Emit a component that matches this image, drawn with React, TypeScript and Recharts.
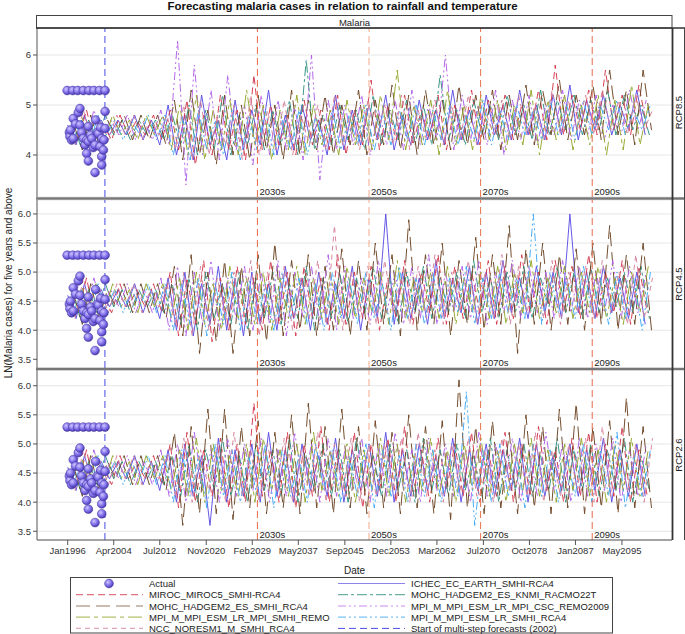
import React from 'react';
import {
  ComposedChart,
  Line,
  Scatter,
  XAxis,
  YAxis,
  CartesianGrid,
  ReferenceLine,
} from 'recharts';

const FONT = '"Liberation Sans", Arial, sans-serif';

// x axis ticks (decimal years) and their labels
const tickYears = [1996, 2004.25, 2012.5, 2020.83, 2029.08, 2037.33, 2045.67, 2053.92, 2062.17, 2070.5, 2078.75, 2087, 2095.33];
const tickLabels = ['Jan1996', 'Apr2004', 'Jul2012', 'Nov2020', 'Feb2029', 'May2037', 'Sep2045', 'Dec2053', 'Mar2062', 'Jul2070', 'Oct2078', 'Jan2087', 'May2095'];

const decades = [2030, 2050, 2070, 2090];
const decadeLabels = ['2030s', '2050s', '2070s', '2090s'];
const forecastStart = 2002.67;

// observed series
const actualYears = [
  1995.9, 1996.9, 1997.8, 1998.8, 1999.8, 2000.7, 2001.7, 2002.7,
  1996.3, 1996.4, 1996.5, 1996.7, 1997.0, 1997.0, 1997.4, 1997.9, 1998.2, 1998.2,
  1998.5, 1998.8, 1999.1, 1999.4, 1999.4, 1999.7, 1999.7, 1999.7, 2000.1, 2000.3,
  2000.6, 2000.9, 2000.9, 2001.0, 2001.3, 2001.5, 2001.8, 2001.9, 2002.1, 2002.1,
  2002.1, 2002.4, 2002.7, 2002.7, 2002.5,
];
const actualValues = [
  5.29, 5.29, 5.29, 5.29, 5.29, 5.29, 5.29, 5.29,
  4.45, 4.37, 4.5, 4.3, 4.33, 4.73, 4.62, 4.85, 4.93, 4.6,
  4.45, 4.33, 4.2, 4.03, 4.3, 3.88, 4.27, 4.57, 4.4, 4.33,
  4.15, 3.65, 4.2, 4.7, 4.45, 4.43, 4.17, 4.55, 4.33, 3.97,
  3.8, 4.1, 4.53, 4.87, 4.3,
];

// model series, in legend order
const modelNames = [
  'ICHEC_EC_EARTH_SMHI-RCA4',
  'MIROC_MIROC5_SMHI-RCA4',
  'MOHC_HADGEM2_ES_KNMI_RACMO22T',
  'MOHC_HADGEM2_ES_SMHI_RCA4',
  'MPI_M_MPI_ESM_LR_MPI_CSC_REMO2009',
  'MPI_M_MPI_ESM_LR_MPI_SMHI_REMO',
  'MPI_M_MPI_ESM_LR_SMHI_RCA4',
  'NCC_NORESM1_M_SMHI_RCA4',
];
const modelColors = ['#5d4fe4', '#d2384c', '#2f9080', '#6d4524', '#b060e8', '#94a72c', '#3fa9f5', '#d4829a'];
const modelDash = [undefined, '7 4', '10 3 3 3', '14 6', '8 3 2 3 2 3', '14 4 4 4', '8 3 2 3 2 3', '5 4'];
const modelPhase = [0, 0.375, 0.75, 1.125, 0.19, 0.56, 0.94, 1.31];
const sampleStart = 1996;
const sampleStep = 1.5;

// 1996 - 2012.5, same in all scenarios
const earlyValues = [
  [4.6, 4.2, 4.8, 4.3, 4.7, 4.4, 4.7, 4.4, 4.8, 4.3, 4.7, 4.2],
  [4.5, 4.3, 4.9, 4.2, 4.6, 4.3, 4.8, 4.4, 4.7, 4.4, 4.8, 4.3],
  [4.7, 4.2, 4.7, 4.3, 4.8, 4.4, 4.7, 4.3, 4.7, 4.4, 4.7, 4.3],
  [4.6, 4.1, 4.8, 4.2, 4.7, 4.4, 4.8, 4.3, 4.8, 4.3, 4.8, 4.2],
  [4.3, 4.8, 4.2, 4.9, 4.4, 4.7, 4.4, 4.8, 4.3, 4.7, 4.3, 4.9],
  [4.4, 5.0, 4.3, 4.8, 4.3, 4.8, 4.4, 4.7, 4.3, 4.8, 4.4, 4.8],
  [4.3, 4.7, 4.2, 4.8, 4.4, 4.7, 4.3, 4.7, 4.4, 4.8, 4.3, 4.8],
  [4.2, 4.9, 4.3, 4.7, 4.3, 4.8, 4.4, 4.8, 4.3, 4.7, 4.4, 4.8],
];

// 2014 - 2099.5
const rcp85Values = [
  [5.0, 4.0, 4.8, 3.9, 5.2, 4.2, 4.7, 3.9, 5.1, 4.1, 4.9, 4.2, 5.3, 4.0, 4.8, 4.1, 5.0, 4.3, 4.7, 4.0,
   5.2, 4.1, 4.9, 4.2, 5.0, 4.3, 5.2, 4.1, 4.8, 4.2, 5.1, 4.3, 4.9, 4.2, 5.3, 4.3, 4.9, 4.2, 5.2, 4.4,
   5.0, 4.3, 5.3, 4.4, 5.0, 4.3, 5.2, 4.4, 5.4, 4.3, 5.1, 4.5, 5.2, 4.4, 5.0, 4.5, 5.3, 4.4],
  [4.9, 4.1, 5.1, 3.8, 4.8, 4.0, 5.2, 4.1, 4.9, 3.9, 5.6, 4.1, 5.0, 4.2, 4.8, 4.0, 5.1, 4.2, 4.9, 4.1,
   5.2, 4.0, 4.9, 4.2, 5.5, 4.1, 5.0, 4.3, 5.2, 4.2, 4.9, 4.3, 5.2, 4.1, 5.0, 4.3, 5.3, 4.2, 5.1, 4.4,
   5.2, 4.3, 5.0, 4.4, 5.3, 4.3, 5.8, 4.4, 5.2, 4.5, 5.3, 4.4, 5.7, 4.5, 5.2, 4.4, 5.4, 4.5],
  [4.8, 4.2, 5.0, 4.0, 4.9, 4.1, 5.2, 4.0, 4.8, 4.2, 5.0, 4.1, 4.9, 4.2, 5.1, 4.0, 5.9, 4.1, 4.8, 4.2,
   5.0, 4.3, 4.9, 4.1, 5.2, 4.2, 4.9, 4.3, 5.1, 4.2, 5.0, 4.2, 5.6, 4.3, 4.9, 4.2, 5.1, 4.4, 5.0, 4.3,
   5.2, 4.4, 5.0, 4.3, 5.3, 4.4, 5.1, 4.5, 5.2, 4.4, 5.1, 4.5, 5.3, 4.4, 5.2, 4.5, 5.0, 4.4],
  [5.1, 3.9, 5.3, 4.0, 4.9, 3.8, 5.2, 4.0, 5.0, 3.9, 5.2, 4.1, 5.0, 3.9, 5.3, 4.0, 5.1, 4.1, 5.2, 4.0,
   5.0, 4.2, 5.3, 4.0, 5.1, 4.2, 5.4, 4.1, 5.2, 4.0, 5.3, 4.2, 5.1, 4.1, 5.4, 4.2, 5.2, 4.3, 5.3, 4.1,
   5.2, 4.3, 5.4, 4.2, 5.3, 4.4, 5.5, 4.3, 5.2, 4.4, 5.4, 4.3, 5.7, 4.4, 5.3, 4.2, 5.7, 4.5],
  [4.2, 6.3, 3.4, 5.8, 4.0, 5.3, 3.9, 5.6, 4.1, 5.0, 3.8, 5.2, 4.0, 5.1, 4.1, 5.0, 3.9, 6.0, 3.5, 5.1,
   4.1, 5.0, 4.2, 5.2, 4.0, 4.9, 4.2, 5.1, 4.1, 5.3, 4.2, 5.0, 4.3, 6.0, 4.1, 5.2, 4.3, 5.0, 4.2, 5.3,
   4.0, 5.1, 4.3, 5.2, 4.2, 5.0, 4.4, 5.3, 4.3, 5.1, 4.4, 5.2, 4.3, 5.0, 4.4, 5.3, 4.5, 5.1],
  [4.1, 5.0, 4.0, 5.2, 3.9, 4.9, 4.1, 5.1, 4.0, 5.3, 4.2, 5.0, 3.9, 4.9, 4.1, 5.2, 4.0, 5.0, 4.2, 4.9,
   4.0, 5.1, 4.2, 5.0, 4.1, 5.2, 4.3, 5.7, 4.1, 5.0, 4.2, 5.1, 4.0, 5.3, 4.2, 5.0, 4.1, 5.2, 4.3, 5.1,
   4.1, 5.0, 4.2, 5.3, 4.0, 5.1, 4.3, 5.2, 4.1, 5.0, 4.2, 5.2, 4.0, 5.1, 4.1, 5.4, 4.2, 5.0],
  [4.0, 4.8, 3.9, 4.9, 4.1, 4.7, 4.0, 4.9, 3.9, 4.8, 4.1, 4.9, 4.0, 4.7, 4.1, 4.9, 4.0, 4.8, 4.2, 4.9,
   4.1, 4.8, 4.2, 5.0, 4.1, 4.8, 4.2, 4.9, 4.3, 5.0, 4.2, 4.9, 4.3, 5.0, 4.2, 4.8, 4.3, 5.1, 4.2, 4.9,
   4.3, 5.0, 4.4, 4.9, 4.3, 5.1, 4.4, 5.0, 4.3, 5.1, 4.4, 5.0, 4.5, 5.1, 4.4, 4.9, 4.5, 5.0],
  [4.1, 5.0, 3.9, 5.1, 4.0, 4.8, 4.2, 5.0, 3.9, 5.2, 4.0, 4.9, 4.1, 5.1, 4.0, 4.8, 4.2, 5.0, 4.1, 5.2,
   4.2, 4.9, 4.1, 5.1, 4.3, 5.0, 4.2, 5.2, 4.1, 4.9, 4.3, 5.1, 4.2, 5.0, 4.3, 5.2, 4.2, 4.9, 4.4, 5.1,
   4.3, 5.2, 4.4, 5.0, 4.3, 5.3, 4.4, 5.1, 4.5, 5.2, 4.4, 5.3, 4.5, 5.1, 4.4, 5.2, 4.5, 4.9],
];

const rcp45Values = [
  [4.9, 4.0, 5.0, 3.9, 4.8, 4.1, 5.1, 4.0, 4.9, 3.9, 5.0, 4.1, 4.8, 4.0, 5.1, 4.2, 4.9, 4.0, 5.0, 4.1,
   4.8, 4.2, 5.1, 4.0, 4.9, 4.2, 6.0, 4.1, 5.0, 4.2, 4.9, 4.1, 5.2, 4.2, 4.9, 4.3, 5.1, 4.1, 5.0, 4.2,
   5.2, 4.3, 4.9, 4.2, 5.1, 4.3, 5.0, 4.2, 6.0, 4.3, 5.0, 4.2, 5.1, 4.3, 4.9, 4.2, 5.0, 4.1],
  [5.0, 3.9, 4.9, 4.1, 5.2, 3.8, 4.9, 4.0, 5.1, 4.1, 4.9, 4.0, 5.2, 4.1, 5.0, 3.9, 5.1, 4.2, 4.9, 4.0,
   5.3, 4.1, 5.0, 4.2, 5.1, 4.0, 4.9, 4.2, 5.2, 4.1, 5.0, 4.3, 5.3, 4.1, 5.1, 4.2, 5.0, 4.3, 5.2, 4.1,
   5.1, 4.2, 5.3, 4.3, 5.0, 4.1, 5.2, 4.3, 5.1, 4.2, 5.3, 4.2, 5.0, 4.3, 5.2, 4.1, 5.1, 4.3],
  [4.8, 4.1, 4.9, 4.0, 5.0, 4.2, 4.8, 4.1, 5.0, 4.0, 4.9, 4.2, 5.0, 4.1, 4.8, 4.2, 5.1, 4.0, 4.9, 4.2,
   5.0, 4.1, 4.9, 4.3, 5.1, 4.2, 4.9, 4.1, 5.0, 4.3, 5.1, 4.2, 4.9, 4.3, 5.0, 4.2, 5.2, 4.3, 4.9, 4.2,
   5.0, 4.3, 5.1, 4.2, 4.9, 4.4, 5.1, 4.3, 5.0, 4.2, 5.1, 4.3, 4.9, 4.4, 5.0, 4.3, 5.1, 4.2],
  [5.1, 3.9, 5.3, 3.6, 5.0, 3.8, 5.2, 3.6, 5.1, 3.9, 5.3, 3.8, 5.5, 3.9, 5.2, 4.0, 5.3, 3.9, 5.1, 4.0,
   5.4, 3.9, 5.2, 4.0, 5.5, 4.1, 5.3, 3.9, 5.9, 4.0, 5.3, 4.1, 5.5, 3.9, 5.2, 4.1, 5.6, 4.0, 5.3, 4.1,
   5.8, 3.6, 5.4, 4.1, 5.5, 4.0, 5.3, 4.1, 5.4, 4.0, 5.5, 4.1, 5.8, 4.0, 5.3, 4.1, 5.5, 4.0],
  [4.0, 5.1, 3.9, 5.0, 4.1, 5.2, 4.0, 4.9, 4.2, 5.1, 4.0, 5.0, 4.1, 5.2, 3.9, 5.0, 4.2, 5.1, 4.1, 5.3,
   4.0, 5.1, 4.2, 4.9, 4.1, 5.2, 4.3, 5.0, 4.1, 5.1, 4.2, 5.3, 4.1, 5.0, 4.3, 5.1, 4.2, 5.2, 4.1, 5.0,
   4.3, 5.2, 4.2, 5.1, 4.3, 5.0, 4.2, 5.2, 4.3, 5.1, 4.2, 5.0, 4.3, 5.2, 4.2, 5.1, 4.3, 5.0],
  [4.2, 4.9, 4.0, 5.0, 4.1, 4.8, 4.0, 5.1, 4.2, 4.9, 4.1, 5.0, 4.0, 4.9, 4.2, 5.1, 4.1, 4.9, 4.2, 5.0,
   4.1, 5.1, 4.2, 4.9, 4.3, 5.0, 4.1, 5.2, 4.2, 4.9, 4.3, 5.0, 4.2, 5.1, 4.1, 4.9, 4.3, 5.0, 4.2, 5.1,
   4.1, 5.0, 4.3, 5.2, 4.2, 4.9, 4.3, 5.1, 4.2, 5.0, 4.3, 5.1, 4.2, 4.9, 4.1, 5.0, 4.3, 5.1],
  [4.0, 4.8, 4.1, 4.9, 3.9, 4.8, 4.1, 5.0, 4.0, 4.9, 4.1, 4.8, 4.0, 5.0, 4.2, 4.9, 4.1, 4.8, 4.0, 5.0,
   4.2, 4.9, 4.1, 5.0, 4.2, 4.8, 4.0, 5.1, 4.2, 4.9, 4.1, 5.0, 4.2, 4.9, 4.3, 5.1, 4.1, 4.9, 4.2, 5.0,
   4.3, 4.9, 4.2, 6.0, 4.1, 5.0, 4.3, 4.9, 4.2, 5.1, 4.3, 4.9, 4.1, 5.0, 4.2, 4.9, 4.0, 5.0],
  [4.1, 5.0, 3.9, 5.1, 4.0, 4.9, 4.2, 5.0, 4.1, 5.2, 3.9, 5.0, 4.1, 5.1, 4.0, 4.9, 4.2, 5.2, 4.1, 5.8,
   4.0, 5.0, 4.2, 5.1, 4.1, 5.2, 4.3, 4.9, 4.1, 5.1, 4.2, 5.3, 4.1, 5.0, 4.3, 5.2, 4.1, 5.0, 4.2, 5.3,
   4.1, 5.1, 4.3, 5.0, 4.2, 5.2, 4.1, 5.0, 4.3, 5.1, 4.2, 5.2, 4.3, 5.0, 4.1, 5.3, 4.2, 4.9],
];

const rcp26Values = [
  [4.9, 4.0, 5.0, 4.1, 4.8, 3.6, 5.1, 4.0, 4.9, 4.1, 5.0, 4.0, 5.2, 4.1, 4.9, 4.0, 5.0, 4.2, 4.8, 4.1,
   5.1, 4.0, 4.9, 4.2, 5.0, 4.1, 5.2, 4.0, 4.9, 4.1, 5.0, 4.2, 4.8, 4.1, 5.1, 4.0, 4.9, 4.2, 5.0, 4.1,
   4.9, 4.2, 5.1, 4.0, 5.0, 4.1, 4.8, 4.2, 5.0, 4.1, 4.9, 4.2, 5.1, 4.0, 4.9, 4.1, 5.0, 4.1],
  [5.0, 3.9, 5.2, 4.0, 4.9, 4.1, 5.1, 3.9, 5.0, 4.0, 5.7, 4.1, 4.9, 4.0, 5.2, 3.9, 5.0, 4.1, 5.3, 4.0,
   4.9, 4.1, 5.2, 3.9, 5.0, 4.2, 5.1, 4.0, 5.3, 4.1, 4.9, 4.0, 5.1, 4.2, 5.0, 4.1, 5.2, 4.0, 4.9, 4.1,
   5.2, 4.0, 5.0, 4.1, 5.3, 4.2, 4.9, 4.0, 5.1, 4.1, 5.2, 4.0, 5.0, 4.1, 5.3, 4.0, 4.9, 4.1],
  [4.8, 4.1, 5.0, 4.0, 4.9, 4.2, 5.1, 4.1, 4.8, 4.0, 5.0, 4.2, 4.9, 4.1, 5.1, 4.0, 4.8, 4.2, 5.0, 4.1,
   4.9, 4.0, 5.1, 4.2, 4.8, 4.1, 5.0, 4.2, 4.9, 4.0, 5.1, 4.2, 4.9, 4.1, 5.0, 4.2, 4.8, 4.1, 5.1, 4.0,
   4.9, 4.2, 5.0, 4.1, 4.8, 4.2, 5.1, 4.0, 4.9, 4.2, 5.0, 4.1, 4.9, 4.2, 5.1, 4.0, 4.8, 4.2],
  [5.2, 3.6, 5.3, 3.8, 5.6, 3.8, 5.6, 3.7, 5.3, 3.9, 5.4, 3.8, 5.2, 3.9, 5.5, 3.8, 5.7, 3.9, 5.3, 3.8,
   5.6, 3.9, 5.3, 3.8, 5.4, 3.9, 5.2, 3.8, 5.5, 3.9, 5.3, 3.8, 5.4, 3.7, 6.1, 3.9, 5.3, 3.8, 5.4, 3.9,
   5.2, 3.8, 5.5, 3.9, 5.3, 3.8, 5.6, 3.9, 5.7, 3.8, 5.3, 3.9, 5.4, 3.8, 5.8, 3.9, 5.3, 3.9],
  [4.1, 5.0, 4.0, 5.2, 4.2, 4.9, 4.0, 5.1, 4.1, 5.0, 4.2, 5.1, 4.0, 4.9, 4.1, 5.2, 4.2, 5.0, 4.0, 5.1,
   4.1, 4.9, 4.2, 5.1, 4.0, 5.0, 4.1, 5.2, 4.2, 4.9, 4.0, 5.1, 4.2, 5.0, 4.1, 4.9, 4.0, 5.2, 4.1, 5.0,
   4.2, 5.1, 4.0, 4.9, 4.1, 5.2, 4.2, 5.0, 4.0, 5.1, 4.1, 5.0, 4.2, 5.1, 4.0, 4.9, 4.1, 5.0],
  [4.2, 4.9, 4.1, 5.1, 4.0, 5.0, 4.2, 4.8, 4.1, 5.0, 4.0, 5.1, 4.2, 4.9, 4.1, 5.0, 4.0, 5.2, 4.2, 4.9,
   4.1, 5.0, 4.0, 4.9, 4.2, 5.1, 4.1, 5.0, 4.0, 4.8, 4.2, 5.1, 4.1, 4.9, 4.0, 5.0, 4.2, 5.1, 4.1, 4.9,
   4.0, 5.0, 4.2, 5.1, 4.1, 4.9, 4.0, 5.0, 4.2, 5.1, 4.1, 4.9, 4.0, 5.0, 4.2, 5.1, 4.1, 4.9],
  [4.0, 4.9, 4.1, 4.8, 3.9, 5.0, 4.1, 4.9, 4.0, 4.8, 4.1, 5.0, 3.9, 4.9, 4.1, 4.8, 4.0, 5.0, 4.2, 4.9,
   4.0, 4.8, 4.1, 5.0, 3.9, 4.9, 4.1, 4.8, 4.0, 5.0, 4.1, 4.9, 4.0, 4.8, 4.1, 5.9, 3.6, 4.9, 4.0, 5.0,
   4.1, 4.8, 3.9, 5.0, 4.1, 4.9, 4.0, 4.8, 4.1, 5.0, 4.0, 4.9, 4.1, 5.2, 3.9, 4.8, 4.1, 4.9],
  [4.1, 5.1, 4.0, 4.9, 4.2, 5.0, 4.0, 5.2, 4.1, 4.9, 4.0, 5.0, 4.2, 5.1, 4.0, 4.9, 4.1, 5.2, 4.0, 5.0,
   4.2, 5.1, 4.0, 4.9, 4.1, 5.0, 4.2, 5.1, 4.0, 5.2, 4.1, 4.9, 4.0, 5.0, 4.2, 5.1, 4.1, 4.9, 4.0, 5.1,
   4.2, 5.0, 4.1, 5.2, 4.0, 4.9, 4.1, 5.0, 4.2, 5.1, 4.0, 5.3, 4.1, 4.9, 4.2, 5.0, 4.0, 5.1],
];

const actual = actualYears.map((t, i) => ({ t, v: actualValues[i] }));

function buildSeries(k: number, late: number[]) {
  return [...earlyValues[k], ...late].map((v, i) => ({
    t: sampleStart + i * sampleStep + modelPhase[k],
    v,
  }));
}

const panels = [
  { label: 'RCP8.5', values: rcp85Values, top: 28, height: 169, domain: [3.16, 6.54], ticks: [4, 5, 6], digits: 0 },
  { label: 'RCP4.5', values: rcp45Values, top: 200, height: 168, domain: [3.35, 6.24], ticks: [3.5, 4, 4.5, 5, 5.5, 6], digits: 1 },
  { label: 'RCP2.6', values: rcp26Values, top: 370, height: 170, domain: [3.35, 6.27], ticks: [3.5, 4, 4.5, 5, 5.5, 6], digits: 1 },
];

const decadeColors = ['#ea6a48', '#f4a88a', '#e8734f', '#e66a4c'];

const Ball = (props: any) => (
  <circle cx={props.cx} cy={props.cy} r={4.4} fill="url(#ballGrad)" stroke="#3f3396" strokeWidth={0.5} />
);

function Panel({ cfg, showX }: { cfg: any; showX: boolean }) {
  const series = modelNames.map((_, k) => buildSeries(k, cfg.values[k]));
  return (
    <div style={{ position: 'absolute', left: 0, top: cfg.top }}>
      <ComposedChart
        width={685}
        height={cfg.height + (showX ? 26 : 0)}
        margin={{ top: 0, right: 13, bottom: 0, left: 7 }}
      >
        <CartesianGrid vertical={false} stroke="#e6e6e6" />
        <XAxis
          type="number"
          dataKey="t"
          domain={[1990.5, 2104.3]}
          allowDataOverflow
          ticks={tickYears}
          tickFormatter={(v) => tickLabels[tickYears.indexOf(v)]}
          hide={!showX}
          height={26}
          tick={{ fontSize: 9.5, fill: '#333', fontFamily: FONT }}
          tickSize={5}
          tickLine={{ stroke: '#555' }}
          axisLine={{ stroke: '#555' }}
          interval={0}
        />
        <YAxis
          type="number"
          domain={cfg.domain}
          allowDataOverflow
          ticks={cfg.ticks}
          tickFormatter={(v) => Number(v).toFixed(cfg.digits)}
          width={30}
          tick={{ fontSize: 9.5, fill: '#333', fontFamily: FONT }}
          tickSize={4}
          tickLine={{ stroke: '#555' }}
          axisLine={{ stroke: '#555' }}
        />
        <Scatter data={actual} dataKey="v" shape={Ball} isAnimationActive={false} />
        {series.map((d, k) => (
          <Line
            key={modelNames[k]}
            data={d}
            dataKey="v"
            type="linear"
            stroke={modelColors[k]}
            strokeWidth={1}
            strokeOpacity={0.95}
            strokeDasharray={modelDash[k]}
            dot={false}
            activeDot={false}
            isAnimationActive={false}
          />
        ))}
        {decades.map((yr, i) => (
          <ReferenceLine
            key={yr}
            x={yr}
            stroke={decadeColors[i]}
            strokeDasharray="7 4"
            label={{ value: decadeLabels[i], position: 'insideBottomLeft', offset: 2, fontSize: 9.5, fill: '#222', fontFamily: FONT }}
          />
        ))}
        <ReferenceLine x={forecastStart} stroke="#4a4ae6" strokeDasharray="7 4" />
      </ComposedChart>
    </div>
  );
}

const legendLeft = [
  { name: 'Actual', k: -1 },
  { name: modelNames[1], k: 1 },
  { name: modelNames[3], k: 3 },
  { name: modelNames[5], k: 5 },
  { name: modelNames[7], k: 7 },
];
const legendRight = [
  { name: modelNames[0], k: 0 },
  { name: modelNames[2], k: 2 },
  { name: modelNames[4], k: 4 },
  { name: modelNames[6], k: 6 },
  { name: 'Start of multi-step forecasts (2002)', k: -2 },
];
const legendRows = [583.5, 594.7, 606, 617.2, 628.4];

function LegendEntry({ x, y, entry }: { x: number; y: number; entry: { name: string; k: number } }) {
  let sample;
  if (entry.k === -1) {
    sample = <circle cx={x + 33} cy={y} r={4.4} fill="url(#ballGrad)" stroke="#3f3396" strokeWidth={0.5} />;
  } else if (entry.k === -2) {
    sample = <line x1={x} x2={x + 67} y1={y} y2={y} stroke="#4a4ae6" strokeDasharray="7 4" />;
  } else {
    sample = (
      <line x1={x} x2={x + 67} y1={y} y2={y} stroke={modelColors[entry.k]} strokeOpacity={0.7}
        strokeWidth={1.2} strokeDasharray={modelDash[entry.k]} />
    );
  }
  return (
    <g>
      {sample}
      <text x={x + 73} y={y} dominantBaseline="central" fontSize={9.5} fill="#222" fontFamily={FONT}>
        {entry.name}
      </text>
    </g>
  );
}

export default function App() {
  return (
    <div style={{ position: 'absolute', left: 0, top: 0, width: 685, height: 634, background: '#fff', fontFamily: FONT }}>
      <svg width={0} height={0} style={{ position: 'absolute' }}>
        <defs>
          <radialGradient id="ballGrad" cx="38%" cy="35%" r="65%">
            <stop offset="0%" stopColor="#cfc6ff" />
            <stop offset="55%" stopColor="#8473ec" />
            <stop offset="100%" stopColor="#4b3cb4" />
          </radialGradient>
        </defs>
      </svg>
      {panels.map((p, i) => (
        <Panel key={p.label} cfg={p} showX={i === panels.length - 1} />
      ))}
      <svg width={685} height={634} style={{ position: 'absolute', left: 0, top: 0, pointerEvents: 'none' }}>
        <text x={342.5} y={5.5} textAnchor="middle" dominantBaseline="central" fontSize={11.5} fontWeight="bold" fill="#111" fontFamily={FONT}>
          Forecasting malaria cases in relation to rainfall and temperature
        </text>
        <rect x={36.5} y={15.5} width={635.5} height={12.5} fill="#fff" stroke="#444" />
        <text x={354.5} y={22} textAnchor="middle" dominantBaseline="central" fontSize={9.5} fill="#222" fontFamily={FONT}>
          Malaria
        </text>
        <line x1={36} x2={685} y1={28} y2={28} stroke="#333" strokeWidth={1.5} />
        <line x1={36} x2={685} y1={198.5} y2={198.5} stroke="#777" strokeWidth={2.5} />
        <line x1={36} x2={685} y1={369} y2={369} stroke="#777" strokeWidth={2.5} />
        <line x1={672.5} x2={672.5} y1={28} y2={540} stroke="#333" strokeWidth={1.8} />
        <line x1={684.5} x2={684.5} y1={28} y2={540} stroke="#444" />
        {panels.map((p) => (
          <text
            key={p.label}
            x={678.5}
            y={p.top + p.height / 2}
            transform={`rotate(-90 678.5 ${p.top + p.height / 2})`}
            textAnchor="middle"
            dominantBaseline="central"
            fontSize={9.5}
            fill="#222"
            fontFamily={FONT}
          >
            {p.label}
          </text>
        ))}
        <text x={8} y={283} transform="rotate(-90 8 283)" textAnchor="middle" dominantBaseline="central" fontSize={10} fill="#222" fontFamily={FONT}>
          LN(Malaria cases) for five years and above
        </text>
        <text x={354.5} y={570} textAnchor="middle" dominantBaseline="central" fontSize={10} fill="#222" fontFamily={FONT}>
          Date
        </text>
        <rect x={70.5} y={577.5} width={542} height={55.5} fill="none" stroke="#444" />
        {legendLeft.map((e, i) => (
          <LegendEntry key={e.name} x={76} y={legendRows[i]} entry={e} />
        ))}
        {legendRight.map((e, i) => (
          <LegendEntry key={e.name} x={338} y={legendRows[i]} entry={e} />
        ))}
      </svg>
    </div>
  );
}
